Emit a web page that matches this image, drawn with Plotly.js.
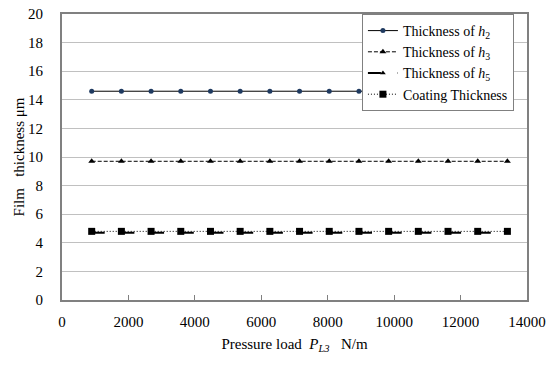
<!DOCTYPE html>
<html>
<head>
<meta charset="utf-8">
<script src="https://cdn.plot.ly/plotly-3.0.1.min.js"></script>
<style>html,body{margin:0;padding:0;background:#fff;}#chart{width:550px;height:365px;}</style>
</head>
<body>
<div id="chart"></div>
<script>
const pressureLoad = [894, 1788, 2682, 3576, 4470, 5364, 6258, 7152, 8046, 8940, 9834, 10728, 11622, 12516, 13410];
const thicknessH2 = [14.6, 14.6, 14.6, 14.6, 14.6, 14.6, 14.6, 14.6, 14.6, 14.6, 14.6, 14.6, 14.6, 14.6, 14.6];
const thicknessH3 = [9.7, 9.7, 9.7, 9.7, 9.7, 9.7, 9.7, 9.7, 9.7, 9.7, 9.7, 9.7, 9.7, 9.7, 9.7];
const thicknessH5 = [4.7, 4.7, 4.7, 4.7, 4.7, 4.7, 4.7, 4.7, 4.7, 4.7, 4.7, 4.7, 4.7, 4.7, 4.7];
const coatingThickness = [4.8, 4.8, 4.8, 4.8, 4.8, 4.8, 4.8, 4.8, 4.8, 4.8, 4.8, 4.8, 4.8, 4.8, 4.8];
const seriesNames = ['Thickness of <i>h</i><sub>2</sub>', 'Thickness of <i>h</i><sub>3</sub>', 'Thickness of <i>h</i><sub>5</sub>', 'Coating Thickness'];

const FONT = 'Times New Roman';
const traces = [
  {x: pressureLoad, y: thicknessH2, name: seriesNames[0], mode: 'lines+markers',
   line: {color: '#000', width: 1}, marker: {symbol: 'circle', size: 5, color: '#1f3a60'}},
  {x: pressureLoad, y: thicknessH3, name: seriesNames[1], mode: 'lines+markers',
   line: {color: '#000', width: 1, dash: '4px,2px'}, marker: {symbol: 'triangle-up', size: 6, color: '#000'}},
  {x: pressureLoad, y: thicknessH5, name: seriesNames[2], mode: 'lines+markers',
   line: {color: '#000', width: 2, dash: '13px,16.7px'}, marker: {symbol: 'triangle-up', size: 5, color: '#000'}},
  {x: pressureLoad, y: coatingThickness, name: seriesNames[3], mode: 'lines+markers',
   line: {color: '#000', width: 1, dash: '1px,2px'}, marker: {symbol: 'square', size: 7, color: '#000'}}
];

const layout = {
  width: 550, height: 365,
  margin: {l: 62, r: 23, t: 14, b: 65},
  paper_bgcolor: '#fff', plot_bgcolor: '#fff',
  font: {family: FONT, size: 15, color: '#000'},
  showlegend: true,
  legend: {x: 0.645, xanchor: 'left', y: 1, yanchor: 'top', bgcolor: '#fff',
           bordercolor: '#808080', borderwidth: 1, font: {family: FONT, size: 14, color: '#000'},
           itemwidth: 30, tracegroupgap: 0},
  xaxis: {range: [0, 14000], dtick: 2000, tick0: 0, tickformat: 'd', showgrid: false, zeroline: false,
          showline: true, linecolor: '#808080', linewidth: 2, mirror: true,
          ticks: 'inside', ticklen: 5, tickcolor: '#808080', ticklabelstandoff: 7,
          tickfont: {family: FONT, size: 15, color: '#000'},
          title: {text: 'Pressure load  <i>P</i><sub><i>L3</i></sub>   N/m', font: {family: FONT, size: 15, color: '#000'}, standoff: 9}},
  yaxis: {range: [0, 20], dtick: 2, tick0: 0, showgrid: true, gridcolor: '#c0c0c0', gridwidth: 1,
          zeroline: false, showline: true, linecolor: '#808080', linewidth: 2, mirror: true,
          ticks: '', ticklabelstandoff: 14,
          tickfont: {family: FONT, size: 15, color: '#000'},
          title: {text: 'Film   thickness μm', font: {family: FONT, size: 15, color: '#000'}, standoff: 0}}
};

Plotly.newPlot('chart', traces, layout, {displayModeBar: false, staticPlot: true});
</script>
</body>
</html>
